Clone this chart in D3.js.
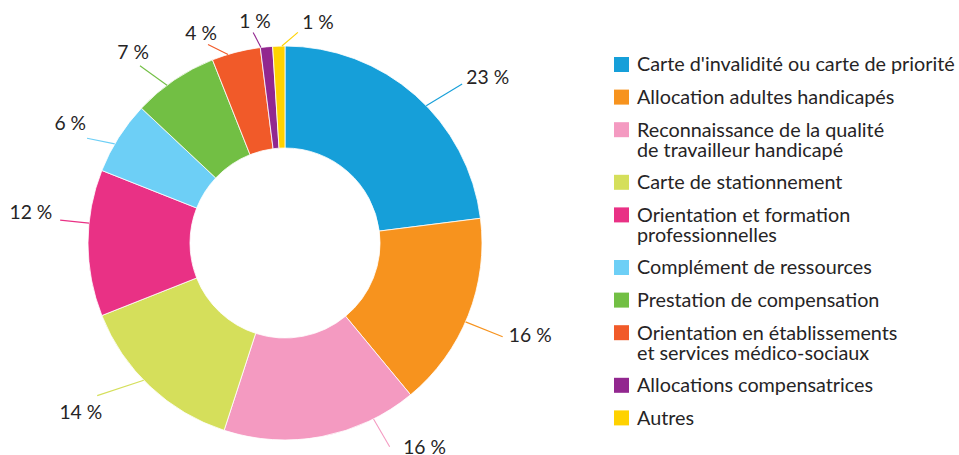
<!DOCTYPE html>
<html>
<head>
<meta charset="utf-8">
<script src="https://cdn.jsdelivr.net/npm/d3@7"></script>
<style>
  html, body { margin: 0; padding: 0; background: #fff; }
  svg { display: block; }
  text { font-family: Lato, "Open Sans", sans-serif; fill: #262425; }
</style>
</head>
<body>
<svg id="chart" width="959" height="455"></svg>
<script>
// categories, in slice order (clockwise from 12 o'clock) and legend order
const categories = [
  "Carte d'invalidité ou carte de priorité",
  "Allocation adultes handicapés",
  "Reconnaissance de la qualité\nde travailleur handicapé",
  "Carte de stationnement",
  "Orientation et formation\nprofessionnelles",
  "Complément de ressources",
  "Prestation de compensation",
  "Orientation en établissements\net services médico-sociaux",
  "Allocations compensatrices",
  "Autres"
];
const shares = [23, 16, 16, 14, 12, 6, 7, 4, 1, 1];
const colors = ["#169fd9", "#f7931e", "#f49ac1", "#d5df5b", "#e93185",
                "#6dcff6", "#72bf44", "#f15a29", "#92278f", "#ffd200"];

// hand placed callouts (degrees clockwise from top, radius in px)
const leaderStart = [45.8, 113.6, 153.3, 225.8, 275.8, 300.2, 323.2, 343.2, 353, 359.1];
const leaderEnd = [[48.1, 238], [113.3, 237], [152.8, 229], [230.9, 242], [275.8, 226],
                   [297.9, 224], [320.7, 229], [338.8, 213], [351.4, 213], [3.5, 211]];
const labelPos = [[50.7, 262], [110.6, 262], [145.6, 247], [230.4, 265], [277, 256],
                  [299.2, 246], [321.5, 244], [338.2, 226], [352.3, 224], [8.5, 223]];

const svg = d3.select('#chart');
const cx = 285, cy = 243;
const outerR = 197, innerR = 95;
const rad = d => d * Math.PI / 180;

const pie = d3.pie().sort(null).value(d => d);
const arc = d3.arc().innerRadius(innerR).outerRadius(outerR);

const g = svg.append('g').attr('transform', `translate(${cx},${cy})`);

g.selectAll('path.slice')
  .data(pie(shares))
  .join('path')
  .attr('class', 'slice')
  .attr('d', arc)
  .attr('fill', (d, i) => colors[i])
  .attr('stroke', '#fff')
  .attr('stroke-width', 0.8);

// leader lines
g.selectAll('line.leader')
  .data(shares)
  .join('line')
  .attr('class', 'leader')
  .each(function (d, i) {
    const p0 = d3.pointRadial(rad(leaderStart[i]), outerR);
    const p1 = d3.pointRadial(rad(leaderEnd[i][0]), leaderEnd[i][1]);
    d3.select(this)
      .attr('x1', p0[0]).attr('y1', p0[1])
      .attr('x2', p1[0]).attr('y2', p1[1]);
  })
  .attr('stroke', (d, i) => colors[i])
  .attr('stroke-width', 1.1);

g.selectAll('text.pct')
  .data(shares)
  .join('text')
  .attr('class', 'pct')
  .attr('transform', (d, i) => {
    const p = d3.pointRadial(rad(labelPos[i][0]), labelPos[i][1]);
    return `translate(${p[0]},${p[1]})`;
  })
  .attr('text-anchor', 'middle')
  .attr('dy', '0.35em')
  .style('font-size', '19.3px')
  .text(d => d + ' %');

// legend
const legendX = 614, sq = 15, rowStep = 32.6, lineStep = 20;
let y = 64.5;
const legend = svg.append('g').attr('class', 'legend');
categories.forEach((c, i) => {
  const lines = c.split('\n');
  const item = legend.append('g').attr('transform', `translate(${legendX},${y})`);
  item.append('rect')
    .attr('x', 0).attr('y', -sq / 2)
    .attr('width', sq).attr('height', sq)
    .attr('fill', colors[i]);
  const t = item.append('text')
    .attr('x', 23)
    .style('font-size', '19.8px');
  lines.forEach((l, k) => {
    t.append('tspan')
      .attr('x', 23)
      .attr('y', k * lineStep)
      .attr('dy', '0.35em')
      .text(l);
  });
  y += rowStep + (lines.length - 1) * lineStep;
});
</script>
</body>
</html>
